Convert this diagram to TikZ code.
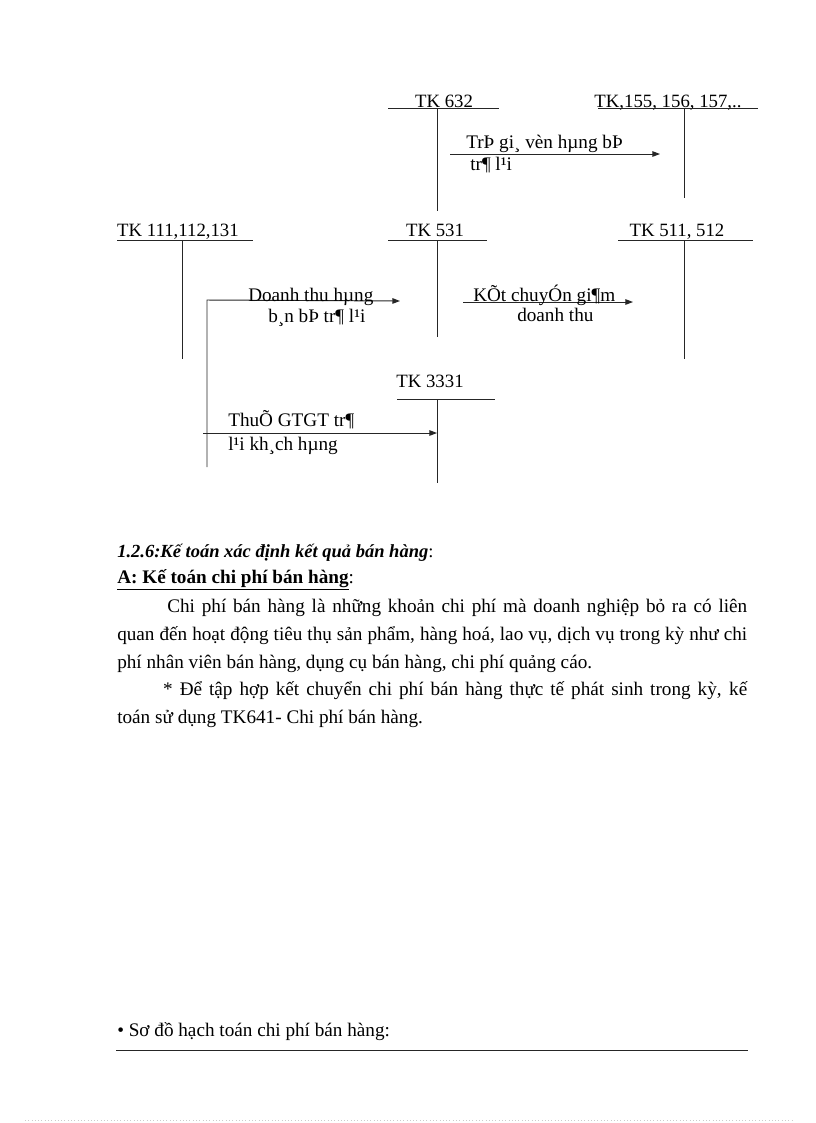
\documentclass[tikz,border=0pt]{standalone}
\usepackage{fontspec}
\setmainfont{Liberation Serif}
\usetikzlibrary{arrows.meta}

\begin{document}
\begin{tikzpicture}[x=0.7295pt,y=-0.7295pt,>={Triangle[length=5.5pt,width=4pt]},
    line/.style={draw=black!85,line width=0.7pt},
    tk/.style={anchor=base,inner sep=0pt,font=\fontsize{13.7}{16}\selectfont},
    lbl/.style={anchor=base west,inner sep=0pt,font=\fontsize{14}{16}\selectfont},
    body/.style={anchor=base west,inner sep=0pt,font=\fontsize{14}{20.6}\selectfont}]

    \useasboundingbox (0,0) rectangle (816,1123);

    % the accounts
    \node[tk] (632) at (444,107) {TK 632};
    \node[tk] (155) at (668,107) {TK,155, 156, 157,..};
    \node[tk] (111) at (178,236) {TK 111,112,131};
    \node[tk] (531) at (435,236) {TK 531};
    \node[tk] (511) at (677,236) {TK 511, 512};
    \node[tk] (3331) at (430,387) {TK 3331};

    \draw[line] (388,108) -- (499,108);
    \draw[line] (437,108) -- (437,211);
    \draw[line] (598,108) -- (758,108);
    \draw[line] (684,108) -- (684,198);
    \draw[line] (117,240) -- (253,240);
    \draw[line] (182,240) -- (182,359);
    \draw[line] (388,240) -- (487,240);
    \draw[line] (437,240) -- (437,337);
    \draw[line] (618,240) -- (753,240);
    \draw[line] (684,240) -- (684,359);
    \draw[line] (397,399) -- (495,399);
    \draw[line] (437,399) -- (437,483);

    % the entries
    \coordinate (gv0) at (450,154);
    \coordinate (gv1) at (660,154);
    \draw[line,->] (gv0) -- (gv1);
    \node[lbl] (gv) at (466,148) {TrÞ gi¸ vèn hµng bÞ};
    \node[lbl] (gv2) at (470,170) {tr¶ l¹i};

    \coordinate (dt0) at (207,467);
    \coordinate (dt1) at (207,300);
    \coordinate (dt2) at (400,301);
    \draw[line,->] (dt0) -- (dt1) -- (dt2);
    \node[lbl] (dt) at (248,301) {Doanh thu hµng};
    \node[lbl] (dt3) at (268,322) {b¸n bÞ tr¶ l¹i};

    \coordinate (kc0) at (463,302);
    \coordinate (kc1) at (633,302);
    \draw[line,->] (kc0) -- (kc1);
    \node[lbl] (kc) at (473,301) {KÕt chuyÓn gi¶m};
    \node[lbl] (kc2) at (517,321) {doanh thu};

    \coordinate (vat0) at (203,433);
    \coordinate (vat1) at (437,433);
    \draw[line,->] (vat0) -- (vat1);
    \node[lbl] (vat) at (228,426) {ThuÕ GTGT tr¶};
    \node[lbl] (vat2) at (228,450) {l¹i kh¸ch hµng};

    % the text below
    \node[body,font=\fontsize{13.5}{20.6}\selectfont] (title) at (117,557) {\textbf{\textit{1.2.6:Kế toán xác định kết quả bán hàng}}:};
    \node[body] (head) at (117,583) {\underline{\textbf{A: Kế toán chi phí bán hàng}}:};
    \node[body,text width=459.6pt,align=justify] (para1) at (117,612)
        {\hspace*{36.5pt}Chi phí bán hàng là những khoản chi phí mà doanh nghiệp bỏ ra có liên\linebreak
         quan đến hoạt động tiêu thụ sản phẩm, hàng hoá, lao vụ, dịch vụ trong kỳ như chi\linebreak
         phí nhân viên bán hàng, dụng cụ bán hàng, chi phí quảng cáo.};
    \node[body,text width=459.6pt,align=justify] (para2) at (117,695)
        {\hspace*{33.5pt}* Để tập hợp kết chuyển chi phí bán hàng thực tế phát sinh trong kỳ, kế\linebreak
         toán sử dụng TK641- Chi phí bán hàng.};

    \node[body] (so) at (117,1036) {• Sơ đồ hạch toán chi phí bán hàng:};
    \draw[line] (116,1050) -- (748,1050);
    \draw[black!20,dotted] (25,1120) -- (792,1120);
\end{tikzpicture}
\end{document}
